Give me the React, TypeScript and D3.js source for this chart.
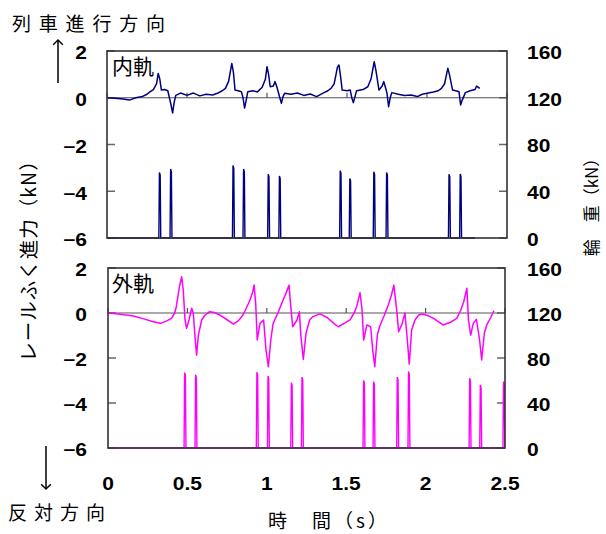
import React from 'react';
import * as d3 from 'd3';

// inner rail (内軌) creep force, kN  [time s, value]
const innerForce: [number, number][] = [
  [0, 0], [0.05, -0.02], [0.1, -0.05], [0.14, -0.1], [0.18, 0.0], [0.22, 0.05], [0.25, 0.15], [0.27, 0.26],
  [0.29, 0.35], [0.31, 0.6], [0.32, 1.04], [0.33, 0.8], [0.34, 0.33], [0.36, 0.35], [0.38, 0.3], [0.39, 0.0],
  [0.4, -0.3], [0.41, -0.65], [0.42, -0.2], [0.43, 0.1], [0.46, 0.2], [0.5, 0.1], [0.54, 0.2], [0.58, 0.08],
  [0.62, 0.15], [0.66, 0.12], [0.69, 0.19], [0.72, 0.3], [0.74, 0.4], [0.76, 0.7], [0.78, 1.47], [0.79, 1.1],
  [0.8, 0.33], [0.82, 0.3], [0.84, 0.26], [0.85, 0.0], [0.86, -0.44], [0.87, -0.1], [0.88, 0.26], [0.91, 0.3],
  [0.94, 0.25], [0.97, 0.45], [0.99, 0.8], [1.0, 1.33], [1.01, 1.0], [1.02, 0.47], [1.04, 0.5], [1.05, 0.69],
  [1.06, 0.5], [1.07, 0.26], [1.08, 0.0], [1.09, -0.24], [1.1, 0.05], [1.11, 0.19], [1.15, 0.15], [1.19, 0.2],
  [1.23, 0.1], [1.27, 0.16], [1.31, 0.05], [1.35, 0.2], [1.38, 0.3], [1.4, 0.4], [1.42, 0.6], [1.44, 1.3],
  [1.45, 1.4], [1.46, 0.9], [1.47, 0.33], [1.5, 0.3], [1.52, 0.33], [1.53, 0.0], [1.54, -0.21], [1.55, 0.05],
  [1.56, 0.3], [1.6, 0.35], [1.63, 0.47], [1.65, 0.8], [1.67, 1.54], [1.68, 1.2], [1.7, 0.33], [1.72, 0.5],
  [1.73, 0.69], [1.74, 0.45], [1.75, 0.19], [1.76, -0.38], [1.77, 0.0], [1.78, 0.22], [1.82, 0.15], [1.86, 0.1],
  [1.9, 0.12], [1.94, 0.05], [1.97, 0.15], [2.0, 0.19], [2.04, 0.25], [2.07, 0.3], [2.09, 0.4], [2.11, 0.6],
  [2.13, 1.26], [2.14, 1.0], [2.16, 0.33], [2.18, 0.3], [2.2, 0.26], [2.21, -0.31], [2.22, -0.1], [2.24, 0.22],
  [2.27, 0.3], [2.3, 0.35], [2.31, 0.5], [2.33, 0.4],
];

// outer rail (外軌) creep force, kN
const outerForce: [number, number][] = [
  [0, 0], [0.05, -0.03], [0.1, -0.08], [0.16, -0.13], [0.22, -0.25], [0.28, -0.38], [0.33, -0.46], [0.37, -0.35],
  [0.4, -0.24], [0.42, 0.0], [0.43, 0.28], [0.45, 1.17], [0.464, 1.61], [0.474, 1.02], [0.485, -0.31], [0.495, -0.68],
  [0.51, -0.31], [0.527, 0.21], [0.537, 0.0], [0.548, -1.05], [0.558, -1.87], [0.569, -0.98], [0.59, -0.31], [0.61, -0.1],
  [0.64, 0.06], [0.67, 0.02], [0.705, -0.09], [0.75, -0.3], [0.79, -0.49], [0.82, -0.35], [0.85, -0.09], [0.87, 0.2],
  [0.894, 0.58], [0.91, 0.9], [0.92, 1.24], [0.93, 0.43], [0.94, -1.2], [0.957, -0.46], [0.98, -0.31], [0.995, -1.64],
  [1.01, -2.39], [1.025, -1.2], [1.04, -0.46], [1.07, 0.0], [1.094, 0.43], [1.125, 0.95], [1.14, 1.24], [1.15, 0.36],
  [1.163, -0.61], [1.19, -0.31], [1.205, 0.06], [1.215, -1.05], [1.23, -2.06], [1.247, -0.9], [1.27, -0.31], [1.29, -0.16],
  [1.335, -0.04], [1.38, -0.2], [1.42, -0.45], [1.45, -0.61], [1.49, -0.45], [1.524, -0.31], [1.55, 0.0], [1.566, 0.28],
  [1.587, 0.9], [1.6, 0.13], [1.61, -1.2], [1.63, -0.53], [1.654, -0.61], [1.667, -1.64], [1.68, -2.39], [1.696, -0.98],
  [1.71, -0.61], [1.74, -0.1], [1.765, 0.36], [1.785, 0.8], [1.8, 1.24], [1.818, 0.13], [1.83, -0.83], [1.85, -0.53],
  [1.87, 0.0], [1.885, -1.2], [1.897, -2.27], [1.912, -0.76], [1.933, -0.31], [1.955, -0.1], [1.975, -0.04], [2.01, -0.1],
  [2.05, -0.24], [2.11, -0.53], [2.16, -0.4], [2.196, -0.24], [2.22, 0.1], [2.24, 0.5], [2.26, 1.1], [2.27, -0.31],
  [2.284, -0.98], [2.3, -0.46], [2.32, -0.28], [2.34, -1.2], [2.353, -2.09], [2.37, -0.9], [2.385, -0.53], [2.41, -0.2],
  [2.43, 0.1],
];

// wheel load spikes (輪重), [time s, peak kN]
const innerLoad: [number, number][] = [
  [0.33, 56], [0.4, 59], [0.79, 62], [0.856, 59], [1.01, 54.5], [1.08, 53],
  [1.46, 57.6], [1.52, 51], [1.67, 56.7], [1.75, 56], [2.14, 54.5], [2.21, 54.7],
];
const outerLoad: [number, number][] = [
  [0.485, 67], [0.554, 65], [0.94, 67.3], [1.01, 64], [1.157, 58], [1.224, 63],
  [1.612, 60], [1.675, 59], [1.824, 63], [1.895, 68], [2.28, 62], [2.347, 56], [2.493, 59],
];
const innerLoadEnd = 2.3;
const outerLoadEnd = 2.5;

const forceTicks = [2, 0, -2, -4, -6];
const loadTicks = [160, 120, 80, 40, 0];
const timeTicks = [0, 0.5, 1, 1.5, 2, 2.5];

const NAVY = '#000080';
const MAGENTA = '#FF00FF';
const FRAME = '#333';
const NUM_FONT = '"Liberation Sans", Arial, sans-serif';
const JP_FONT = '"Noto Sans CJK JP", sans-serif';

// wide bold numerals like the original's
function Num({ x, y, anchor, children }: any) {
  return (
    <text transform={`translate(${x},${y}) scale(1.2,1)`} textAnchor={anchor || 'start'} dominantBaseline="central"
      fontFamily={NUM_FONT} fontWeight="bold" fontSize={17.5}>{children}</text>
  );
}

function loadSeries(spikes: [number, number][], end: number): [number, number][] {
  const w = 0.006;
  const pts: [number, number][] = [[0, 0]];
  spikes.forEach(([t, v]) => {
    pts.push([t - w, 0], [t - w * 0.4, v], [t + w * 0.4, v * 0.96], [t + w, 0]);
  });
  pts.push([end, 0]);
  return pts;
}

function Panel({ top, bottom, left, right, force, spikes, loadEnd, color, label, id, showXLabels }: any) {
  const x = d3.scaleLinear().domain([0, 2.5]).range([left, right]);
  const yF = d3.scaleLinear().domain([-6, 2]).range([bottom, top]);
  const yL = d3.scaleLinear().domain([0, 160]).range([bottom, top]);
  const fLine = d3.line<[number, number]>().x(d => x(d[0])).y(d => yF(d[1]));
  const lLine = d3.line<[number, number]>().x(d => x(d[0])).y(d => yL(d[1]));
  return (
    <g>
      <defs>
        <clipPath id={id}>
          <rect x={left} y={top - 2} width={right - left} height={bottom - top + 3} />
        </clipPath>
      </defs>
      {forceTicks.map(v => (
        <g key={v}>
          <line x1={left} x2={left + 8} y1={yF(v)} y2={yF(v)} stroke="#666" strokeWidth={1.5} />
          <line x1={right - 8} x2={right} y1={yF(v)} y2={yF(v)} stroke="#666" strokeWidth={1.5} />
          <Num x={87} y={yF(v) + 2.5} anchor="end">{v < 0 ? `\u2212${-v}` : v}</Num>
        </g>
      ))}
      {loadTicks.map(v => (
        <Num key={v} x={527} y={yL(v) + 2}>{v}</Num>
      ))}
      <line x1={left} x2={right} y1={yF(0)} y2={yF(0)} stroke="#555" strokeWidth={1.2} />
      {timeTicks.map(t => (
        <line key={t} x1={x(t)} x2={x(t)} y1={yF(0)} y2={yF(0) - 5} stroke="#555" strokeWidth={1.2} />
      ))}
      <g clipPath={`url(#${id})`}>
        <path d={lLine(loadSeries(spikes, loadEnd)) || ''} fill="none" stroke={color} strokeWidth={1.4} />
        <path d={fLine(force) || ''} fill="none" stroke={color} strokeWidth={1.5} strokeLinejoin="round" />
      </g>
      <rect x={left} y={top} width={right - left} height={bottom - top} fill="none" stroke={FRAME} strokeWidth={1.6} />
      <text x={112} y={top + 23} fontFamily={JP_FONT} fontSize={21}>{label}</text>
      {showXLabels && timeTicks.map(t => (
        <Num key={t} x={x(t)} y={bottom + 36} anchor="middle">{t}</Num>
      ))}
    </g>
  );
}

export default function App() {
  return (
    <svg width={606} height={534} style={{ position: 'absolute', left: 0, top: 0, background: '#fff' }}>
      <defs>
        <marker id="ah" viewBox="0 0 10 10" refX="5" refY="5" markerWidth="8" markerHeight="8" orient="auto-start-reverse">
          <path d="M1,1 L5,5 L1,9" fill="none" stroke="#000" strokeWidth={1.2} />
        </marker>
      </defs>
      <Panel top={51} bottom={238} left={107} right={507} force={innerForce} spikes={innerLoad}
        loadEnd={innerLoadEnd} color={NAVY} label="内軌" id="clipTop" showXLabels={false} />
      <Panel top={268} bottom={448} left={108} right={505} force={outerForce} spikes={outerLoad}
        loadEnd={outerLoadEnd} color={MAGENTA} label="外軌" id="clipBot" showXLabels={true} />

      <text x={12} y={31} fontFamily={JP_FONT} fontSize={19} letterSpacing={7.8}>列車進行方向</text>
      <line x1={58} y1={83} x2={58} y2={40} stroke="#000" strokeWidth={1.5} markerEnd="url(#ah)" />
      <line x1={46} y1={446} x2={46} y2={489} stroke="#000" strokeWidth={1.5} markerEnd="url(#ah)" />
      <text x={8} y={520} fontFamily={JP_FONT} fontSize={19} letterSpacing={7}>反対方向</text>

      <text transform="translate(36,256) rotate(-90)" textAnchor="middle" fontFamily={JP_FONT} fontSize={19.5}
        letterSpacing={1}>レールふく進力（kN）</text>
      <text transform="translate(598,203) rotate(-90)" textAnchor="middle" fontFamily={JP_FONT} fontSize={17}>輪　重（kN）</text>
      <text x={329} y={528} textAnchor="middle" fontFamily={JP_FONT} fontSize={19} letterSpacing={3}>時　間（s）</text>
    </svg>
  );
}
